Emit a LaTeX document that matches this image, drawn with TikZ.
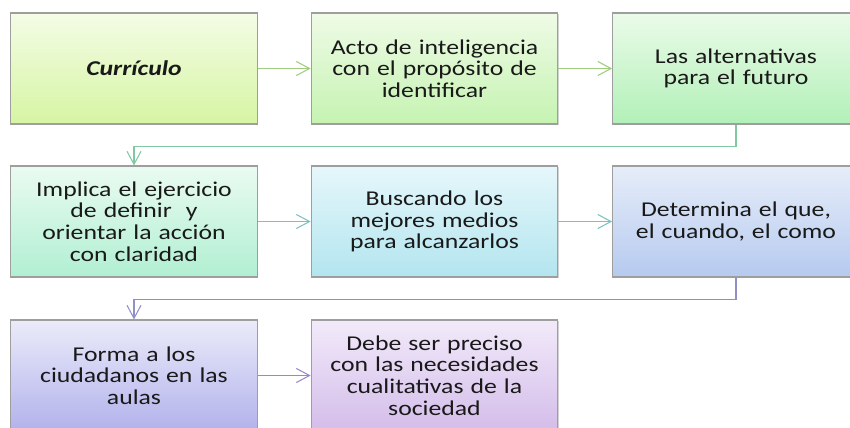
\documentclass[tikz,border=0pt]{standalone}
\usepackage{fontspec}
\setmainfont{Carlito}[FakeStretch=1.22]
\usetikzlibrary{positioning, arrows.meta, shadows}

\definecolor{lnA}{HTML}{A0CC80}
\definecolor{lnB}{HTML}{80C8A0}
\definecolor{lnC}{HTML}{7CC0C0}
\definecolor{lnD}{HTML}{9090C8}
\definecolor{lnE}{HTML}{9A88C8}

\begin{document}
\begin{tikzpicture}[x=0.02cm, y=-0.02cm,
                stepbox/.style={rectangle, draw=black!38, line width=0.6pt, minimum width=4.92cm, minimum height=2.22cm,
                    text width=4.7cm, align=center, text=black!90, font=\fontsize{12}{12.3}\selectfont,
                    drop shadow={shadow xshift=0.6pt, shadow yshift=-0.8pt, opacity=0.35}},
                link/.style={line width=0.6pt, -{Straight Barb[length=7.5pt, width=8pt]}}
            ]
                \useasboundingbox (0,0) rectangle (850,427);
                \clip (0,0) rectangle (850,427);

                % Row 1
                \node[stepbox, top color={rgb,255:red,244;green,252;blue,230}, bottom color={rgb,255:red,214;green,245;blue,163}] (11) at (134,68.5) {\textbf{\textit{Currículo}}};
                \node[stepbox, top color={rgb,255:red,239;green,251;blue,230}, bottom color={rgb,255:red,197;green,243;blue,178}] (12) at (434.5,68.5) {Acto de inteligencia\\con el propósito de\\identificar};
                \node[stepbox, top color={rgb,255:red,235;green,251;blue,233}, bottom color={rgb,255:red,178;green,240;blue,184}] (13) at (736,68.5) {Las alternativas\\para el futuro};

                % Row 2
                \node[stepbox, top color={rgb,255:red,234;green,251;blue,241}, bottom color={rgb,255:red,177;green,239;blue,210}] (21) at (134,221.5) {Implica el ejercicio\\de definir~ y\\orientar la acción\\con claridad};
                \node[stepbox, top color={rgb,255:red,230;green,247;blue,251}, bottom color={rgb,255:red,179;green,229;blue,239}] (22) at (434.5,221.5) {Buscando los\\mejores medios\\para alcanzarlos};
                \node[stepbox, top color={rgb,255:red,230;green,237;blue,249}, bottom color={rgb,255:red,182;green,202;blue,239}] (23) at (736,221.5) {Determina el que,\\el cuando, el como};

                % Row 3
                \node[stepbox, top color={rgb,255:red,235;green,235;blue,250}, bottom color={rgb,255:red,178;green,178;blue,236}] (31) at (134,375.5) {Forma a los\\ciudadanos en las\\aulas};
                \node[stepbox, top color={rgb,255:red,242;green,234;blue,250}, bottom color={rgb,255:red,212;green,189;blue,234}] (32) at (434.5,375.5) {Debe ser preciso\\con las necesidades\\cualitativas de la\\sociedad};

                % Connectors
                \draw[link, lnA] (11) -- (12);
                \draw[link, lnA] (12) -- (13);
                \draw[link, lnB] (13.south) -- ++(0,22) -| (21.north);
                \draw[link, lnC] (21) -- (22);
                \draw[link, lnC] (22) -- (23);
                \draw[link, lnD] (23.south) -- ++(0,22) -| (31.north);
                \draw[link, lnE] (31) -- (32);

            \end{tikzpicture}
\end{document}
